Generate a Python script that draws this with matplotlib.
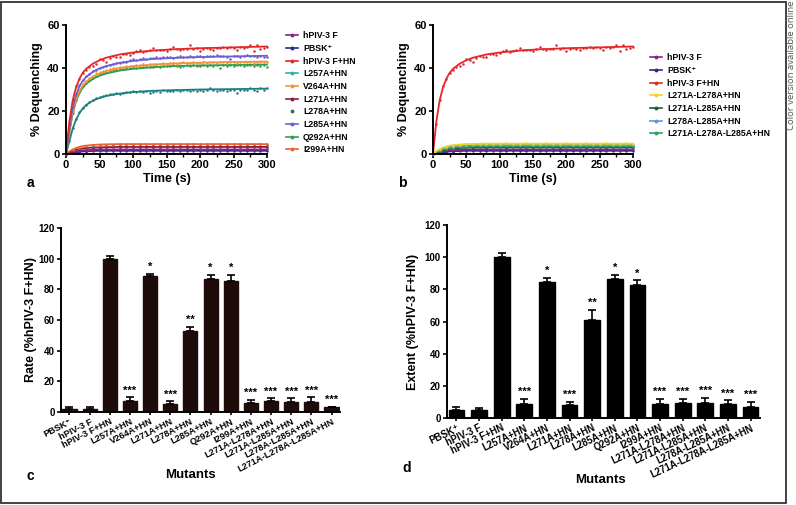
# Lipid mixing kinetics (a, b) and rate / extent of dequenching (c, d)
import numpy as np
import matplotlib.pyplot as plt
from matplotlib.lines import Line2D
from matplotlib.patches import Rectangle

plt.rcParams['font.family'] = ['Liberation Sans', 'DejaVu Sans']
plt.rcParams['font.weight'] = 'bold'
plt.rcParams['axes.labelweight'] = 'bold'

# ---------------- kinetics data (% dequenching) ----------------
# dense points every 5 s, sparse points every 10 s
dense_step = 5
sparse_step = 10

red_pts = [0, 14, 25, 31.5, 35, 37.5, 39, 40.5, 41, 42, 44, 43.5, 43, 44.5, 45.5, 45,
           45, 46.5, 46.5, 46, 47, 48, 48.5, 47.5, 48, 48.5, 49.5, 48.5, 48.5, 48.5, 48,
           49, 50, 49, 48.5, 49, 49, 50.5, 49, 49.5, 48, 49, 49.5, 49, 48.5, 49.5, 49.5,
           50, 49.5, 50, 49.5, 48.5, 50, 49.5, 50, 50.5, 48, 50.5, 49, 49.5, 50]
l285_pts = [0, 12, 22, 28, 32, 34.5, 36.5, 37, 38.5, 39, 40, 40.5, 41, 41.5, 42, 42.5,
            42.5, 43, 43, 43.5, 44, 43.5, 44, 44.5, 44, 44.5, 44.5, 45, 44.5, 45, 45,
            45, 44.5, 45, 45.5, 45, 45, 45.5, 45, 45.5, 45.5, 45, 45.5, 45.5, 45.5, 46,
            45.5, 45.5, 45, 44, 45.5, 45.5, 45, 45.5, 46, 45.5, 45.5, 45, 45.5, 45, 45]
v264_pts = [0, 11, 20, 26, 30, 32.5, 34, 35.5, 36.5, 37.5, 38, 38.5, 39, 39.5, 40, 40,
            40.5, 40.5, 41, 41, 41, 41.5, 41.5, 42, 41.5, 42, 42, 42, 42, 42.5, 42, 42.5,
            42.5, 42, 42.5, 43, 42.5, 42.5, 43, 42.5, 42.5, 43, 42.5, 43, 43, 42.5, 43,
            43, 42.5, 43, 43, 42.5, 43, 43, 43, 43, 42.5, 43, 43, 43, 43]
q292_pts = [0, 10, 19, 25, 29, 31.5, 33, 34.5, 35.5, 36.5, 37, 37.5, 38, 38.5, 39, 39,
            39.5, 39.5, 40, 40, 40.5, 40, 40.5, 40.5, 41, 40.5, 40.5, 41, 40.5, 41, 41,
            41, 41.5, 41, 40.5, 41, 41.5, 41, 41.5, 41, 41, 41.5, 41, 41.5, 41, 41.5, 40,
            41.5, 41, 41.5, 41, 41.5, 41.5, 41, 41.5, 41.5, 41, 41.5, 41, 41.5, 40.5]
l257_pts = [0, 6, 12, 16.5, 19.5, 21.5, 23, 24, 25, 26, 26.5, 27, 27.5, 28, 28, 28.5,
            28, 28.5, 29, 29, 29.5, 29, 29.5, 29, 29.5, 28.5, 29, 29.5, 29, 30, 29.5,
            29.5, 29.5, 30, 29.5, 30, 30, 29.5, 30, 29.5, 30, 29.5, 30, 30.5, 30, 29.5,
            30, 30, 29.5, 30, 30, 28.5, 30, 30, 30, 30.5, 30, 29.5, 30.5, 30, 30.5]

# low curves, every 10 s
f_pts = [0, 0.8, 1.2, 1.6, 1.9, 2, 2.1, 2, 2.2, 2, 2.1, 2.3, 2, 2.1, 2.2, 2,
         2.1, 2, 2.2, 2.1, 2, 2.2, 2.1, 2, 2.1, 2.2, 2, 2.1, 2, 2.1, 2.1]
pbsk_pts = [0, 0.4, 0.8, 1.1, 1.3, 1.4, 1.5, 1.5, 1.6, 1.5, 1.6, 1.5, 1.6, 1.5, 1.6, 1.5,
            1.6, 1.5, 1.6, 1.5, 1.6, 1.5, 1.6, 1.5, 1.6, 1.5, 1.6, 1.5, 1.5, 1.6, 1.5]
l271_pts = [0, 1.3, 2.1, 2.6, 2.9, 3, 3.2, 3.1, 3.3, 3.2, 3.3, 3.2, 3.4, 3.3, 3.2, 3.3,
            3.4, 3.3, 3.2, 3.3, 3.4, 3.3, 3.3, 3.2, 3.4, 3.3, 3.3, 3.4, 3.3, 3.2, 3.3]
l278_pts = [0, 1.7, 2.8, 3.4, 3.8, 4, 4.1, 4.3, 4.2, 4.4, 4.3, 4.2, 4.5, 4.3, 4.4, 4.3,
            4.2, 4.4, 4.3, 4.5, 4.3, 4.4, 4.2, 4.4, 4.3, 4.5, 4.4, 4.3, 4.4, 4.5, 4.3]
i299_pts = [0, 1.9, 3, 3.6, 4, 4.2, 4.3, 4.4, 4.6, 4.5, 4.6, 4.7, 4.5, 4.6, 4.7, 4.6,
            4.5, 4.7, 4.6, 4.6, 4.7, 4.5, 4.6, 4.7, 4.6, 4.6, 4.7, 4.6, 4.5, 4.7, 4.6]
dm1_pts = [0, 2.1, 3.3, 3.9, 4.3, 4.5, 4.6, 4.7, 4.6, 4.8, 4.7, 4.9, 4.8, 4.7, 4.9, 4.8,
           4.7, 4.9, 4.8, 4.8, 4.9, 4.7, 4.8, 4.9, 4.8, 4.7, 4.9, 4.8, 4.8, 4.9, 4.8]
dm2_pts = [0, 1.1, 1.9, 2.4, 2.7, 2.9, 3, 3.1, 3, 3.1, 3.2, 3, 3.1, 3.2, 3.1, 3,
           3.1, 3.2, 3.1, 3, 3.2, 3.1, 3.1, 3, 3.2, 3.1, 3, 3.1, 3.2, 3.1, 3.1]
dm3_pts = [0, 1.7, 2.8, 3.4, 3.7, 3.9, 4, 4.1, 4.2, 4.1, 4.3, 4.2, 4.1, 4.3, 4.2, 4.2,
           4.1, 4.3, 4.2, 4.2, 4.3, 4.1, 4.2, 4.3, 4.2, 4.2, 4.1, 4.3, 4.2, 4.2, 4.2]
tm_pts = [0, 1.4, 2.3, 2.9, 3.2, 3.4, 3.5, 3.6, 3.5, 3.7, 3.6, 3.5, 3.7, 3.6, 3.6, 3.5,
          3.7, 3.6, 3.6, 3.7, 3.5, 3.6, 3.7, 3.6, 3.6, 3.5, 3.7, 3.6, 3.6, 3.7, 3.6]

# fitted curves, read at these times
fit_t = [0, 5, 10, 15, 20, 25, 30, 40, 50, 60, 80, 100, 130, 160, 200, 250, 300]
red_fit = [0, 15, 25, 31, 35, 37.8, 39.6, 42, 43.6, 44.8, 46.3, 47.2, 48.1, 48.7, 49.2, 49.6, 50]
l285_fit = [0, 12, 21.5, 27.5, 31.5, 34, 35.8, 38.2, 39.8, 40.9, 42.4, 43.3, 44.2, 44.7, 45.1, 45.4, 45.7]
v264_fit = [0, 11, 19.8, 25.5, 29.3, 31.8, 33.6, 35.9, 37.4, 38.5, 39.9, 40.8, 41.6, 42.1, 42.5, 42.8, 43]
q292_fit = [0, 10, 18.8, 24.5, 28.3, 30.8, 32.6, 34.9, 36.4, 37.4, 38.8, 39.6, 40.4, 40.9, 41.2, 41.4, 41.6]
l257_fit = [0, 6, 11.8, 16, 19, 21.2, 22.8, 24.8, 26.1, 27, 28.1, 28.8, 29.4, 29.7, 30, 30.2, 30.4]
f_fit = [0, 0.5, 0.9, 1.2, 1.5, 1.7, 1.8, 2, 2.1, 2.1, 2.1, 2.1, 2.1, 2.1, 2.1, 2.1, 2.1]
pbsk_fit = [0, 0.3, 0.6, 0.8, 1, 1.2, 1.3, 1.4, 1.5, 1.5, 1.5, 1.5, 1.5, 1.5, 1.5, 1.5, 1.5]
l271_fit = [0, 0.8, 1.4, 1.9, 2.3, 2.6, 2.8, 3, 3.1, 3.2, 3.3, 3.3, 3.3, 3.3, 3.3, 3.3, 3.3]
i299_fit = [0, 1.2, 2.1, 2.8, 3.3, 3.7, 3.9, 4.2, 4.4, 4.5, 4.6, 4.6, 4.6, 4.6, 4.6, 4.6, 4.6]
dm1_fit = [0, 1.3, 2.3, 3, 3.5, 3.9, 4.1, 4.4, 4.6, 4.7, 4.8, 4.8, 4.8, 4.8, 4.8, 4.8, 4.8]
dm2_fit = [0, 0.7, 1.3, 1.7, 2.1, 2.4, 2.6, 2.8, 3, 3, 3.1, 3.1, 3.1, 3.1, 3.1, 3.1, 3.1]
dm3_fit = [0, 1.1, 1.9, 2.5, 2.9, 3.3, 3.5, 3.8, 4, 4.1, 4.2, 4.2, 4.2, 4.2, 4.2, 4.2, 4.2]
tm_fit = [0, 0.9, 1.6, 2.1, 2.5, 2.8, 3, 3.3, 3.4, 3.5, 3.6, 3.6, 3.6, 3.6, 3.6, 3.6, 3.6]

# ---------------- bar chart data ----------------
mutants = ['PBSK⁺', 'hPIV-3 F', 'hPIV-3 F+HN', 'L257A+HN', 'V264A+HN', 'L271A+HN',
           'L278A+HN', 'L285A+HN', 'Q292A+HN', 'I299A+HN', 'L271A-L278A+HN',
           'L271A-L285A+HN', 'L278A-L285A+HN', 'L271A-L278A-L285A+HN']
rate_mean = [2, 2, 100, 7, 88.5, 5, 53, 86.5, 85.5, 6, 7, 6.5, 6.5, 3]
rate_err = [1, 1, 2, 2.5, 1.5, 2, 2.5, 3, 4, 2, 2, 2.5, 3, 0.5]
extent_mean = [5, 5, 100, 9, 84.5, 8, 61, 86.5, 83, 9, 9.5, 9.5, 9, 7]
extent_err = [2, 1.5, 2.5, 3, 2.5, 2, 6, 2.5, 2.5, 3, 2.5, 3, 2, 3]
stars = ['', '', '', '***', '*', '***', '**', '*', '*', '***', '***', '***', '***', '***']


W, H = 796, 505
fig = plt.figure(figsize=(W / 100, H / 100), dpi=100)
renderer = fig.canvas.get_renderer()


def label_size_for(text, target_px):
    """Font size at which text is target_px long (bold face)."""
    probe = fig.text(0, 0, text, fontsize=10)
    width = probe.get_window_extent(renderer).width
    probe.remove()
    return 10 * target_px / width


def style_axes(ax, labelsize=8):
    for side in ['top', 'right']:
        ax.spines[side].set_visible(False)
    for side in ['left', 'bottom']:
        ax.spines[side].set_linewidth(1.4)
    ax.tick_params(width=1.2, length=3, labelsize=labelsize, pad=1.5)


def draw_kinetics(ax, series):
    """series: list of (points, step, fit, color)."""
    for pts, step, fit, color in series:
        t = np.arange(len(pts)) * step
        ax.plot(t, pts, 'o', ms=1.8, color=color, mec='none', clip_on=False)
        if fit is not None:
            ax.plot(fit_t, fit, '-', lw=1.3, color=color, clip_on=False)
    ax.set_xlim(0, 300)
    ax.set_ylim(0, 60)
    ax.set_xticks([0, 50, 100, 150, 200, 250, 300])
    ax.set_xticks([25, 75, 125, 175, 225, 275], minor=True)
    ax.set_yticks([0, 20, 40, 60])
    style_axes(ax)
    ax.tick_params(which='minor', width=1.0, length=2)
    ax.set_xlabel('Time (s)', fontsize=9, labelpad=2)
    ax.set_ylabel('% Dequenching', fontsize=9, labelpad=3)


def add_legend(ax, labels, colors, anchor, no_line=()):
    handles = []
    for lab, col in zip(labels, colors):
        ls = 'none' if lab in no_line else '-'
        handles.append(Line2D([0], [0], color=col, ls=ls, lw=1.2, marker='o', ms=1.8))
    ax.legend(handles, labels, loc='upper left', bbox_to_anchor=anchor,
              bbox_transform=ax.figure.transFigure, frameon=False, fontsize=6.3,
              borderpad=0, handlelength=1.3, handletextpad=0.6, labelspacing=0.42)


def draw_bars(ax, means, errs, color, ylabel, rot, long_px, ylabel_pad):
    x = np.arange(len(means))
    ax.bar(x, means, width=0.7, color=color, edgecolor=color)
    ax.errorbar(x, means, yerr=[np.zeros(len(errs)), errs], fmt='none',
                ecolor='black', elinewidth=1.2, capsize=3, capthick=1.2)
    for xi, m, e, s in zip(x, means, errs, stars):
        if s:
            ax.text(xi, m + e + 1.2, s, ha='center', va='bottom', fontsize=8)
    ax.set_xlim(-0.42, len(means) - 0.58)
    ax.set_ylim(0, 120)
    ax.set_yticks(range(0, 121, 20))
    ax.set_xticks(x)
    style_axes(ax, labelsize=7)
    # size the rotated names so the longest one matches the reference length
    size = label_size_for(mutants[-1], long_px)
    ax.set_xticklabels(mutants, rotation=rot, ha='right', rotation_mode='anchor',
                       fontsize=size)
    ax.tick_params(axis='x', length=2, pad=1.5)
    ax.set_ylabel(ylabel, fontsize=9, labelpad=ylabel_pad)


def axes_px(x0, y_top, x1, y_bot):
    return fig.add_axes([x0 / W, 1 - y_bot / H, (x1 - x0) / W, (y_bot - y_top) / H])


# colours
c_red = '#e3282a'
c_f = '#8e1f8e'
c_pbsk = '#2b2b8c'

# ---- panel a ----
ax_a = axes_px(66, 25, 267, 154)
draw_kinetics(ax_a, [
    (pbsk_pts, sparse_step, pbsk_fit, c_pbsk),
    (f_pts, sparse_step, f_fit, c_f),
    (l271_pts, sparse_step, l271_fit, '#8c1c3c'),
    (l278_pts, sparse_step, None, '#2f6f5f'),
    (i299_pts, sparse_step, i299_fit, '#f06030'),
    (l257_pts, dense_step, l257_fit, '#1f7f80'),
    (q292_pts, dense_step, q292_fit, '#2f9e4f'),
    (v264_pts, dense_step, v264_fit, '#f5913a'),
    (l285_pts, dense_step, l285_fit, '#6b5fd0'),
    (red_pts, dense_step, red_fit, c_red),
])
add_legend(ax_a,
           ['hPIV-3 F', 'PBSK⁺', 'hPIV-3 F+HN', 'L257A+HN', 'V264A+HN', 'L271A+HN',
            'L278A+HN', 'L285A+HN', 'Q292A+HN', 'I299A+HN'],
           [c_f, c_pbsk, c_red, '#2ab0a8', '#f5913a', '#8c1c3c', '#2f6f5f',
            '#6b5fd0', '#2f9e4f', '#f06030'],
           (282 / W, 1 - 27 / H), no_line=('L278A+HN',))

# ---- panel b ----
ax_b = axes_px(433, 25, 633, 154)
draw_kinetics(ax_b, [
    (pbsk_pts, sparse_step, pbsk_fit, c_pbsk),
    (f_pts, sparse_step, f_fit, c_f),
    (dm2_pts, sparse_step, dm2_fit, '#1d5a2d'),
    (tm_pts, sparse_step, tm_fit, '#22a55a'),
    (dm3_pts, sparse_step, dm3_fit, '#5b9bd5'),
    (dm1_pts, sparse_step, dm1_fit, '#f2d21c'),
    (red_pts, dense_step, red_fit, c_red),
])
add_legend(ax_b,
           ['hPIV-3 F', 'PBSK⁺', 'hPIV-3 F+HN', 'L271A-L278A+HN', 'L271A-L285A+HN',
            'L278A-L285A+HN', 'L271A-L278A-L285A+HN'],
           [c_f, c_pbsk, c_red, '#f2d21c', '#1d5a2d', '#5b9bd5', '#22a55a'],
           (646 / W, 1 - 49 / H))

# ---- panel c ----
ax_c = axes_px(61, 228, 340, 412)
draw_bars(ax_c, rate_mean, rate_err, '#1e0c0a', 'Rate (%hPIV-3 F+HN)', 27, 106, 1)

# ---- panel d ----
ax_d = axes_px(447, 225, 760, 418)
draw_bars(ax_d, extent_mean, extent_err, 'black', 'Extent (%hPIV-3 F+HN)', 25, 112, 4)

# panel letters and shared x titles
for letter, px, py in [('a', 30, 183), ('b', 402, 183), ('c', 30, 476), ('d', 407, 468)]:
    fig.text(px / W, 1 - py / H, letter, fontsize=10, ha='center', va='center')
fig.text(190 / W, 1 - 475 / H, 'Mutants', fontsize=9.5, ha='center', va='center')
fig.text(600 / W, 1 - 480 / H, 'Mutants', fontsize=9.5, ha='center', va='center')

# outer frame and side note
fig.add_artist(Rectangle((1 / W, 2 / H), 785 / W, 501 / H, transform=fig.transFigure,
                         fill=False, lw=1.3, edgecolor='#333333'))
fig.text(791 / W, 1 - 1 / H, 'Color version available online', rotation=90,
         ha='center', va='top', fontsize=6.8, fontweight='normal', color='#555555',
         family=['Open Sans', 'DejaVu Sans'])

fig.savefig('out.png', dpi=100)
